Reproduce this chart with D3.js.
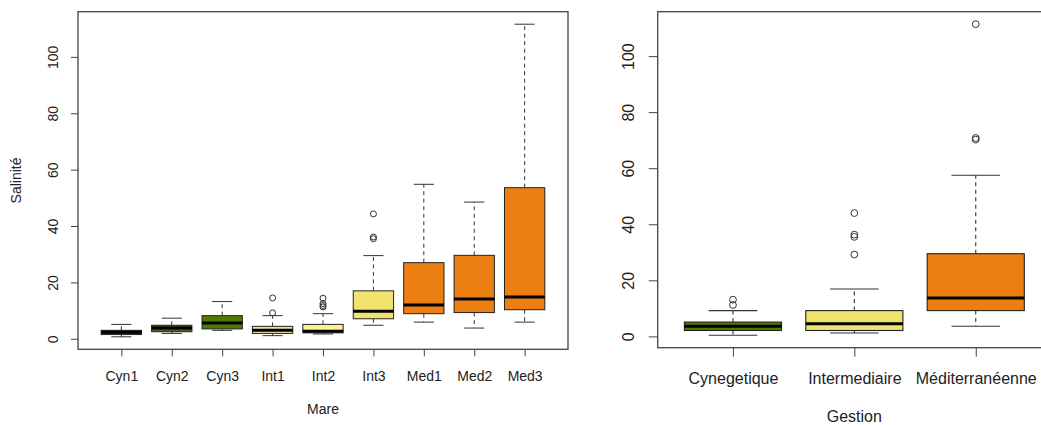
<!DOCTYPE html>
<html><head><meta charset="utf-8">
<script src="https://cdn.jsdelivr.net/npm/d3@7"></script>
<style>body{margin:0;background:#fff}svg{display:block}text{font-family:"Liberation Sans",Arial,sans-serif;fill:#222}</style>
</head><body><svg id="c" width="1041" height="425"></svg>
<script>
// ---- Left panel: Salinité by Mare ----
const mareCats = ["Cyn1","Cyn2","Cyn3","Int1","Int2","Int3","Med1","Med2","Med3"];
const mareLow  = [0.7, 1.9, 3.0, 1.1, 1.7, 4.8, 5.9, 3.8, 5.9];
const mareQ1   = [1.5, 2.5, 3.5, 1.9, 2.1, 7.1, 8.9, 9.3, 10.3];
const mareMed  = [2.3, 3.8, 5.6, 3.0, 2.7, 9.8, 12.0, 14.1, 14.8];
const mareQ3   = [3.0, 4.8, 8.2, 4.4, 5.1, 17.0, 27.0, 29.6, 53.6];
const mareHigh = [5.1, 7.3, 13.2, 8.2, 8.9, 29.5, 54.8, 48.5, 111.6];
const mareOut  = [[], [], [], [14.5, 9.2], [14.4, 12.5, 11.8, 11.3], [44.3, 36.1, 35.5], [], [], []];
const mareColors = ["#4e7a00","#4f5e24","#4e7a00","#f0e2a8","#fdf28e","#f0e36e","#ec7f12","#ec7f12","#ec7f12"];

// ---- Right panel: Salinité by Gestion ----
const gestCats = ["Cynegetique","Intermediaire","Méditerranéenne"];
const gestLow  = [0.4, 1.2, 3.6];
const gestQ1   = [2.1, 2.1, 9.2];
const gestMed  = [3.6, 4.5, 13.7];
const gestQ3   = [5.1, 9.2, 29.5];
const gestHigh = [9.2, 16.9, 57.5];
const gestOut  = [[13.1, 11.2], [44.0, 36.3, 35.5, 29.2], [111.4, 70.8, 70.2]];
const gestColors = ["#4e7a00","#f0e36e","#ec7f12"];

const yTicks = [0, 20, 40, 60, 80, 100];

const svg = d3.select("#c");

function panel(o) {
  const n = o.cats.length;
  const x = d3.scaleLinear().domain([0.5 - 0.04 * n, n + 0.5 + 0.04 * n]).range([o.left, o.right]);
  const allV = o.low.concat(o.high, ...o.out);
  const mn = d3.min(allV), mx = d3.max(allV), r = mx - mn;
  const y = d3.scaleLinear().domain([mn - 0.04 * r, mx + 0.04 * r]).range([o.bottom, o.top]);
  const g = svg.append("g");
  const bw = 0.4, sw = 0.2;
  const dark = "#333";
  o.cats.forEach((c, i) => {
    const cx = x(i + 1);
    const half = x(i + 1 + bw) - cx, shalf = x(i + 1 + sw) - cx;
    g.append("line").attr("x1", cx).attr("x2", cx).attr("y1", y(o.q3[i])).attr("y2", y(o.high[i]))
      .attr("stroke", dark).attr("stroke-width", o.lw).attr("stroke-dasharray", "4,3.5");
    g.append("line").attr("x1", cx).attr("x2", cx).attr("y1", y(o.q1[i])).attr("y2", y(o.low[i]))
      .attr("stroke", dark).attr("stroke-width", o.lw).attr("stroke-dasharray", "4,3.5");
    [o.high[i], o.low[i]].forEach(v => {
      g.append("line").attr("x1", cx - shalf).attr("x2", cx + shalf).attr("y1", y(v)).attr("y2", y(v))
        .attr("stroke", dark).attr("stroke-width", o.lw);
    });
    g.append("rect").attr("x", cx - half).attr("width", 2 * half)
      .attr("y", y(o.q3[i])).attr("height", y(o.q1[i]) - y(o.q3[i]))
      .attr("fill", o.colors[i]).attr("stroke", "#222").attr("stroke-width", o.lw);
    g.append("line").attr("x1", cx - half).attr("x2", cx + half).attr("y1", y(o.med[i])).attr("y2", y(o.med[i]))
      .attr("stroke", "#000").attr("stroke-width", 3);
    o.out[i].forEach(v => {
      g.append("circle").attr("cx", cx).attr("cy", y(v)).attr("r", o.pr)
        .attr("fill", "none").attr("stroke", dark).attr("stroke-width", 1);
    });
  });
  g.append("rect").attr("x", o.left).attr("y", o.top).attr("width", o.right - o.left).attr("height", o.bottom - o.top)
    .attr("fill", "none").attr("stroke", "#444").attr("stroke-width", 1.3);
  const ya = g.append("g").attr("transform", `translate(${o.left},0)`)
    .call(d3.axisLeft(y).tickValues(yTicks).tickSize(o.tick).tickFormat(d3.format("d")));
  ya.select(".domain").remove();
  ya.selectAll(".tick line").attr("stroke", "#444");
  ya.selectAll(".tick text").attr("font-size", o.fs).attr("fill", "#222")
    .attr("x", null).attr("text-anchor", "middle")
    .attr("transform", `translate(${-o.ylabOff},0) rotate(-90)`)
    .attr("dy", "0.35em");
  const xa = g.append("g").attr("transform", `translate(0,${o.bottom})`)
    .call(d3.axisBottom(x).tickValues(d3.range(1, n + 1)).tickSize(o.tick).tickFormat(d => o.cats[d - 1]));
  xa.select(".domain").remove();
  xa.selectAll(".tick line").attr("stroke", "#444");
  xa.selectAll(".tick text").attr("font-size", o.fs).attr("fill", "#222")
    .attr("y", o.xlabY - o.bottom).attr("dy", "0.35em");
  g.append("text").attr("x", x((n + 1) / 2)).attr("y", o.xtitleY)
    .attr("dy", "0.35em").attr("text-anchor", "middle").attr("font-size", o.fs).text(o.xtitle);
  if (o.ytitle) {
    g.append("text").attr("transform", `translate(${o.ytitleX},${(o.top + o.bottom) / 2}) rotate(-90)`)
      .attr("dy", "0.35em").attr("text-anchor", "middle").attr("font-size", o.fs).text(o.ytitle);
  }
}

panel({cats: mareCats, low: mareLow, q1: mareQ1, med: mareMed, q3: mareQ3, high: mareHigh, out: mareOut,
  colors: mareColors, left: 78, right: 568, top: 11.7, bottom: 349.3, fs: 14, tick: 7, lw: 1, pr: 3,
  ylabOff: 25, xlabY: 376, xtitle: "Mare", xtitleY: 409, ytitle: "Salinité", ytitleX: 16});

panel({cats: gestCats, low: gestLow, q1: gestQ1, med: gestMed, q3: gestQ3, high: gestHigh, out: gestOut,
  colors: gestColors, left: 657.7, right: 1051, top: 11.7, bottom: 347.7, fs: 16, tick: 9, lw: 1.1, pr: 3.4,
  ylabOff: 29, xlabY: 378, xtitle: "Gestion", xtitleY: 416});
</script></body></html>
